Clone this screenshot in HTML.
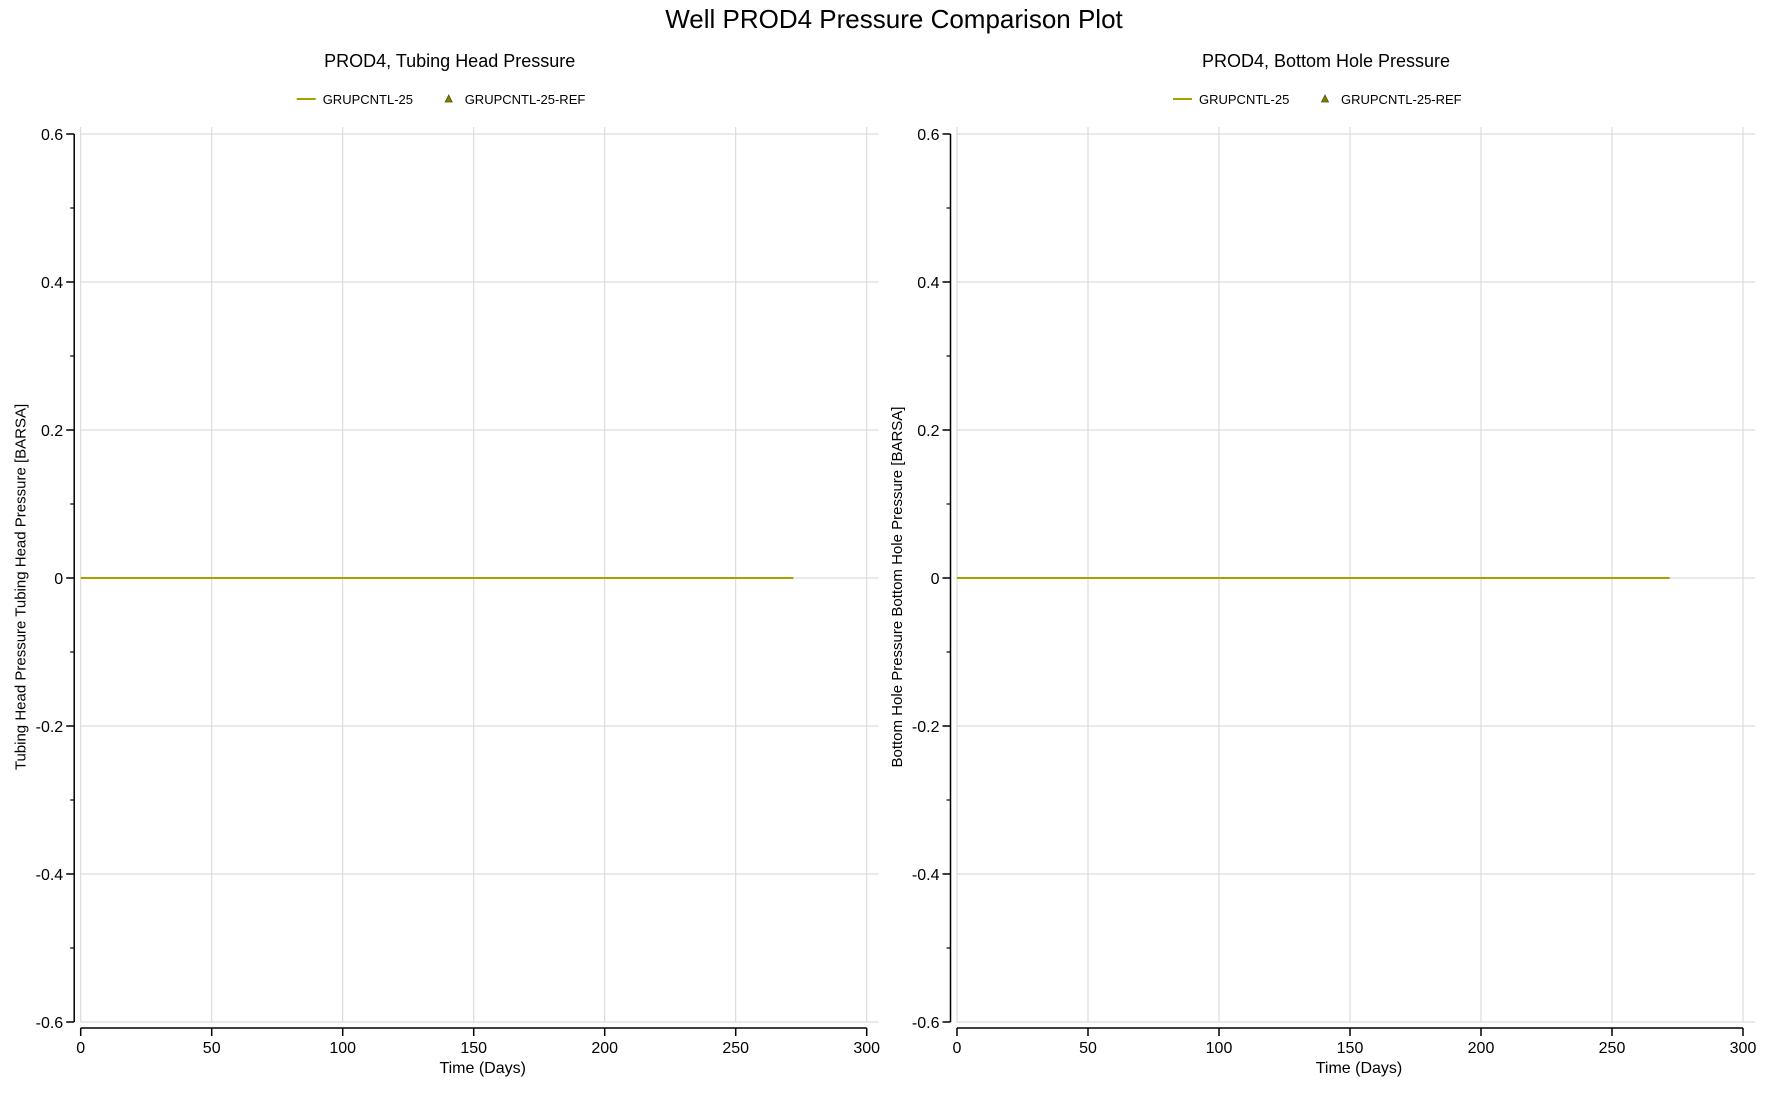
<!DOCTYPE html>
<html><head><meta charset="utf-8"><style>
body{margin:0;background:#fff;width:1788px;height:1107px;overflow:hidden}
svg text{font-family:"Liberation Sans",sans-serif;fill:#000}
</style></head><body>
<svg id="chart" width="1788" height="1107">
<text x="894" y="28" font-size="26" text-anchor="middle">Well PROD4 Pressure Comparison Plot</text>
</svg>
<script>
const xTicks=[0,50,100,150,200,250,300];
const yTicks=[0.6,0.4,0.2,0,-0.2,-0.4,-0.6];
const yMinor=[0.5,0.3,0.1,-0.1,-0.3,-0.5];
const seriesDays=[0,272];
const thpValues=[0,0];
const bhpValues=[0,0];
const panelTitles=["PROD4, Tubing Head Pressure","PROD4, Bottom Hole Pressure"];
const yTitles=["Tubing Head Pressure Tubing Head Pressure [BARSA]","Bottom Hole Pressure Bottom Hole Pressure [BARSA]"];
const legendNames=["GRUPCNTL-25","GRUPCNTL-25-REF"];
const svg=document.getElementById('chart');
const NS='http://www.w3.org/2000/svg';
function mk(tag,attrs,parent){const e=document.createElementNS(NS,tag);for(const k in attrs)e.setAttribute(k,attrs[k]);(parent||svg).appendChild(e);return e;}
const panels=[{x0:80.7,vals:thpValues,key:'thp'},{x0:957,vals:bhpValues,key:'bhp'}];
const yTop=134,yBot=1022,W=786;
panels.forEach((p,i)=>{
  const g=mk('g',{});
  
  
  const xs=v=>p.x0+v/300*W;
  const ys=v=>yTop+(0.6-v)/1.2*(yBot-yTop);
  const t=mk('text',{x:p.x0+369,y:67,'font-size':18,'text-anchor':'middle'},g);t.textContent=panelTitles[i];
  
  
  const lx=p.x0+216;
  const lg=mk('g',{},g);
  
  
  mk('line',{x1:lx,y1:99,x2:lx+19,y2:99,stroke:'#a3a300','stroke-width':2},lg);
  const l1=mk('text',{x:lx+26,y:104,'font-size':13},lg);l1.textContent=legendNames[0];
  
  
  mk('polygon',{points:`${lx+152},95 ${lx+148.5},102 ${lx+155.5},102`,fill:'#808000',stroke:'#505000','stroke-width':0.8},lg);
  const l2=mk('text',{x:lx+168,y:104,'font-size':13},lg);l2.textContent=legendNames[1];
  
  
  xTicks.forEach(v=>{const l=mk('line',{x1:xs(v),y1:127,x2:xs(v),y2:yBot,stroke:'#d6d6d6','stroke-width':1},g);
    });
  yTicks.forEach(v=>{const l=mk('line',{x1:p.x0,y1:ys(v),x2:p.x0+798,y2:ys(v),stroke:'#d6d6d6','stroke-width':1},g);
    });
  const ax=p.x0-6.5;
  const ya=mk('line',{x1:ax,y1:yTop,x2:ax,y2:yBot,stroke:'#000','stroke-width':1.5},g);
  
  yTicks.forEach(v=>{mk('line',{x1:ax-8,y1:ys(v),x2:ax,y2:ys(v),stroke:'#000','stroke-width':1.5},g);
    const tt=mk('text',{x:ax-11,y:ys(v)+6,'font-size':16,'text-anchor':'end'},g);tt.textContent=(v===0?'0':v.toString());
    });
  yMinor.forEach(v=>mk('line',{x1:ax-4,y1:ys(v),x2:ax,y2:ys(v),stroke:'#000','stroke-width':1.2},g));
  const xa=mk('line',{x1:p.x0,y1:1028,x2:xs(300),y2:1028,stroke:'#000','stroke-width':1.5},g);
  
  xTicks.forEach(v=>{mk('line',{x1:xs(v),y1:1028,x2:xs(v),y2:1036,stroke:'#000','stroke-width':1.5},g);
    const tt=mk('text',{x:xs(v),y:1053,'font-size':16,'text-anchor':'middle'},g);tt.textContent=v;
    });
  const xt=mk('text',{x:p.x0+402,y:1073,'font-size':16,'text-anchor':'middle'},g);xt.textContent='Time (Days)';
  
  const yx=p.x0-55,yy=587;
  const yt=mk('text',{x:yx,y:yy,'font-size':15,'text-anchor':'middle',transform:`rotate(-90 ${yx} ${yy})`},g);yt.textContent=yTitles[i];
  
  const pts=seriesDays.map((d,k)=>xs(d)+','+ys(p.vals[k])).join(' ');
  const pl=mk('polyline',{points:pts,fill:'none',stroke:'#a3a300','stroke-width':2},g);
  
});
</script>
</body></html>
